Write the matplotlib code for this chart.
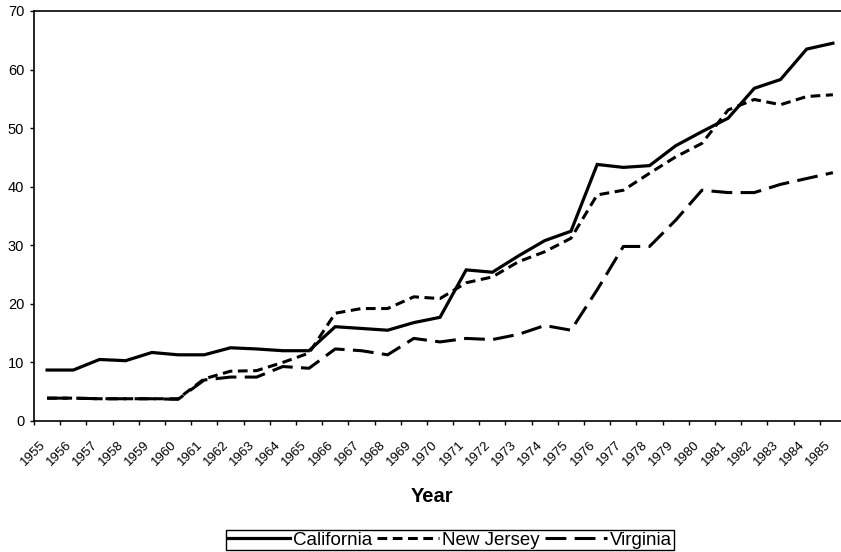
import numpy as np
import matplotlib
matplotlib.use('Agg')
import matplotlib.pyplot as plt
import matplotlib.transforms as mtransforms

plt.rcParams['font.family'] = ['Liberation Sans', 'DejaVu Sans']
plt.rcParams['lines.scale_dashes'] = False

# data
years = list(range(1955, 1986))
california = [8.7, 8.7, 10.5, 10.3, 11.7, 11.3, 11.3, 12.5, 12.3, 12.0,
              12.0, 16.1, 15.8, 15.5, 16.8, 17.7, 25.8, 25.4, 28.2, 30.8,
              32.4, 43.8, 43.3, 43.6, 47.0, 49.4, 51.7, 56.8, 58.3, 63.5,
              64.5]
new_jersey = [3.9, 3.9, 3.8, 3.8, 3.8, 3.8, 7.2, 8.5, 8.6, 10.0,
              11.6, 18.4, 19.2, 19.2, 21.2, 20.9, 23.6, 24.6, 27.2, 28.9,
              31.2, 38.6, 39.4, 42.3, 45.1, 47.4, 53.1, 54.9, 54.0, 55.4,
              55.7]
virginia = [3.9, 3.9, 3.8, 3.8, 3.8, 3.7, 7.0, 7.5, 7.5, 9.3,
            9.0, 12.3, 12.0, 11.3, 14.1, 13.5, 14.1, 13.9, 14.8, 16.3,
            15.5, 22.4, 29.8, 29.8, 34.3, 39.4, 39.0, 39.0, 40.4, 41.4,
            42.4]
series_names = ['California', 'New Jersey', 'Virginia']
y_ticks = [0, 10, 20, 30, 40, 50, 60, 70]

fig = plt.figure(figsize=(8.41, 5.52), dpi=100)
ax = fig.add_axes([34 / 841, 1 - 421 / 552, 812 / 841, 410 / 552])

ax.plot(years, california, color='black', lw=2.3, solid_joinstyle='miter',
        label=series_names[0])
ax.plot(years, new_jersey, color='black', lw=2.2, dashes=(7, 4),
        label=series_names[1])
ax.plot(years, virginia, color='black', lw=2.2, dashes=(15, 6),
        label=series_names[2])

ax.set_xlim(years[0] - 0.5, years[-1] + 0.5)
ax.set_ylim(0, 70)
ax.set_yticks(y_ticks)
ax.tick_params(axis='y', direction='out', length=3, width=1, pad=4,
               labelsize=10.5)

# ticks between categories, labels under category centres
ax.set_xticks(np.arange(years[0] - 0.5, years[-1] + 1.0, 1.0))
ax.set_xticklabels([])
ax.tick_params(axis='x', which='major', direction='out', length=3, width=1)
ax.set_xticks(years, minor=True)
ax.set_xticklabels([str(y) for y in years], minor=True, rotation=45,
                   ha='right', va='top', rotation_mode='anchor', fontsize=9.5)
ax.tick_params(axis='x', which='minor', length=0, pad=0)
offset = mtransforms.ScaledTranslation(-8 / 100, -18 / 100, fig.dpi_scale_trans)
for lbl in ax.xaxis.get_minorticklabels():
    lbl.set_transform(lbl.get_transform() + offset)

for s in ['left', 'bottom', 'top', 'right']:
    ax.spines[s].set_linewidth(1.2)
    ax.spines[s].set_color('black')

ax.set_xlabel('Year', fontsize=14.5, fontweight='bold')
ax.xaxis.set_label_coords(0.49, -0.185)
ax.xaxis.label.set_va('center')

fig.legend(loc='center', bbox_to_anchor=(450 / 841, 1 - 540 / 552), ncol=3,
           fontsize=13.5, frameon=True, fancybox=False, framealpha=1,
           edgecolor='black', handlelength=3.3, handletextpad=0.15,
           columnspacing=0.3, borderpad=0.1, borderaxespad=0)

fig.savefig('out.png', dpi=100)
